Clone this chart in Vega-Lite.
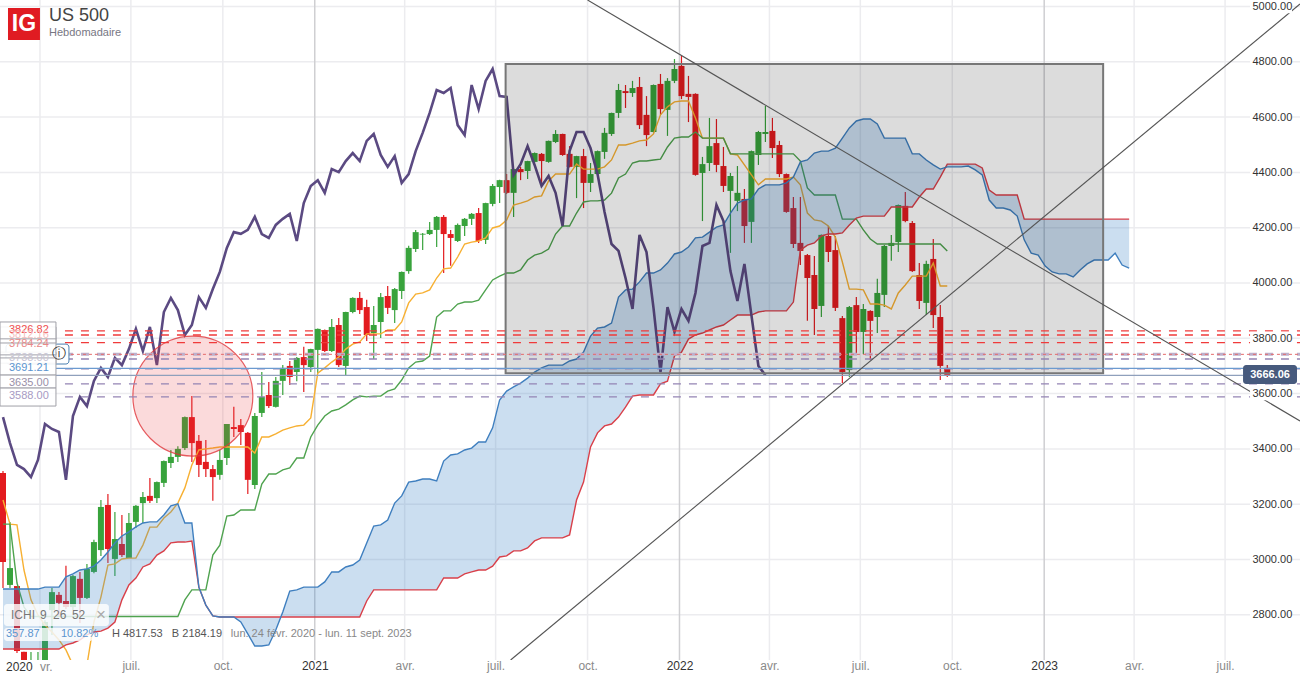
{
  "$schema": "https://vega.github.io/schema/vega-lite/v6.json",
  "description": "US 500 weekly candles with Ichimoku cloud, levels and trend lines",
  "width": 1300,
  "height": 677,
  "padding": 0,
  "autosize": {"type": "none"},
  "background": "#ffffff",
  "config": {
    "padding": 0,
    "font": "Liberation Sans",
    "view": {"stroke": null},
    "axis": {"title": null, "domain": false, "ticks": false, "grid": false}
  },
  "datasets": {
    "weeks": [
      {"date":"2020-02-24","open":3313,"high":3320,"low":2897,"close":2991,"tenkan":3215,"kijun":3128,"lag":3515},
      {"date":"2020-03-02","open":2908,"high":3136,"low":2897,"close":2969,"tenkan":3128,"kijun":3128,"lag":3421},
      {"date":"2020-03-09","open":2904,"high":2904,"low":2662,"close":2669,"tenkan":3125,"kijun":2915,"lag":3342},
      {"date":"2020-03-16","open":2666,"high":2666,"low":2560,"close":2600,"tenkan":2962,"kijun":2828,"lag":3327},
      {"date":"2020-03-23","open":2520,"high":2665,"low":2450,"close":2560,"tenkan":2854,"kijun":2794,"lag":3298},
      {"date":"2020-03-30","open":2560,"high":2665,"low":2500,"close":2590,"tenkan":2799,"kijun":2794,"lag":3360},
      {"date":"2020-04-06","open":2560,"high":2780,"low":2550,"close":2774,"tenkan":2763,"kijun":2794,"lag":3490},
      {"date":"2020-04-13","open":2817,"high":2897,"low":2727,"close":2882,"tenkan":2738,"kijun":2794,"lag":3472},
      {"date":"2020-04-20","open":2872,"high":2882,"low":2792,"close":2843,"tenkan":2709,"kijun":2794,"lag":3461},
      {"date":"2020-04-27","open":2850,"high":2977,"low":2821,"close":2828,"tenkan":2673,"kijun":2794,"lag":3288},
      {"date":"2020-05-04","open":2828,"high":2944,"low":2817,"close":2940,"tenkan":2618,"kijun":2794,"lag":3519},
      {"date":"2020-05-11","open":2930,"high":2955,"low":2770,"close":2861,"tenkan":2564,"kijun":2794,"lag":3588},
      {"date":"2020-05-18","open":2861,"high":2984,"low":2857,"close":2966,"tenkan":2618,"kijun":2794,"lag":3555},
      {"date":"2020-05-25","open":2955,"high":3071,"low":2950,"close":3063,"tenkan":2774,"kijun":2794,"lag":3646},
      {"date":"2020-06-01","open":3034,"high":3215,"low":3013,"close":3190,"tenkan":2864,"kijun":2794,"lag":3693},
      {"date":"2020-06-08","open":3197,"high":3237,"low":2987,"close":3038,"tenkan":2980,"kijun":2794,"lag":3660},
      {"date":"2020-06-15","open":3002,"high":3172,"low":2940,"close":3074,"tenkan":2984,"kijun":2794,"lag":3729},
      {"date":"2020-06-22","open":3056,"high":3161,"low":3009,"close":3016,"tenkan":3002,"kijun":2794,"lag":3703},
      {"date":"2020-06-29","open":3005,"high":3168,"low":3005,"close":3132,"tenkan":3005,"kijun":2794,"lag":3761},
      {"date":"2020-07-06","open":3136,"high":3197,"low":3114,"close":3194,"tenkan":3005,"kijun":2794,"lag":3834},
      {"date":"2020-07-13","open":3204,"high":3244,"low":3132,"close":3226,"tenkan":3052,"kijun":2794,"lag":3754},
      {"date":"2020-07-20","open":3230,"high":3295,"low":3204,"close":3212,"tenkan":3117,"kijun":2794,"lag":3841},
      {"date":"2020-07-27","open":3222,"high":3282,"low":3204,"close":3280,"tenkan":3117,"kijun":2794,"lag":3703},
      {"date":"2020-08-03","open":3277,"high":3358,"low":3262,"close":3356,"tenkan":3150,"kijun":2794,"lag":3895},
      {"date":"2020-08-10","open":3349,"high":3396,"low":3331,"close":3371,"tenkan":3172,"kijun":2794,"lag":3946},
      {"date":"2020-08-17","open":3371,"high":3410,"low":3353,"close":3400,"tenkan":3204,"kijun":2794,"lag":3902},
      {"date":"2020-08-24","open":3403,"high":3517,"low":3396,"close":3515,"tenkan":3259,"kijun":2854,"lag":3812},
      {"date":"2020-08-31","open":3515,"high":3591,"low":3353,"close":3421,"tenkan":3342,"kijun":2890,"lag":3848},
      {"date":"2020-09-07","open":3429,"high":3450,"low":3298,"close":3342,"tenkan":3396,"kijun":2890,"lag":3949},
      {"date":"2020-09-14","open":3353,"high":3432,"low":3298,"close":3327,"tenkan":3400,"kijun":2890,"lag":3910},
      {"date":"2020-09-21","open":3327,"high":3342,"low":3212,"close":3298,"tenkan":3403,"kijun":3016,"lag":3978},
      {"date":"2020-09-28","open":3306,"high":3396,"low":3288,"close":3360,"tenkan":3407,"kijun":3052,"lag":4040},
      {"date":"2020-10-05","open":3367,"high":3490,"low":3342,"close":3490,"tenkan":3407,"kijun":3157,"lag":4127},
      {"date":"2020-10-12","open":3479,"high":3552,"low":3443,"close":3472,"tenkan":3407,"kijun":3161,"lag":4184},
      {"date":"2020-10-19","open":3486,"high":3508,"low":3414,"close":3461,"tenkan":3407,"kijun":3179,"lag":4178},
      {"date":"2020-10-26","open":3458,"high":3461,"low":3237,"close":3288,"tenkan":3407,"kijun":3179,"lag":4192},
      {"date":"2020-11-02","open":3269,"high":3530,"low":3255,"close":3519,"tenkan":3385,"kijun":3179,"lag":4239},
      {"date":"2020-11-09","open":3530,"high":3678,"low":3515,"close":3588,"tenkan":3443,"kijun":3273,"lag":4177},
      {"date":"2020-11-16","open":3595,"high":3642,"low":3548,"close":3555,"tenkan":3443,"kijun":3309,"lag":4163},
      {"date":"2020-11-23","open":3552,"high":3660,"low":3550,"close":3646,"tenkan":3454,"kijun":3309,"lag":4210},
      {"date":"2020-11-30","open":3646,"high":3703,"low":3595,"close":3693,"tenkan":3468,"kijun":3324,"lag":4232},
      {"date":"2020-12-07","open":3700,"high":3718,"low":3631,"close":3660,"tenkan":3476,"kijun":3331,"lag":4250},
      {"date":"2020-12-14","open":3678,"high":3732,"low":3645,"close":3729,"tenkan":3483,"kijun":3367,"lag":4152},
      {"date":"2020-12-21","open":3732,"high":3769,"low":3606,"close":3703,"tenkan":3486,"kijun":3367,"lag":4289},
      {"date":"2020-12-28","open":3696,"high":3762,"low":3678,"close":3761,"tenkan":3512,"kijun":3443,"lag":4351},
      {"date":"2021-01-04","open":3758,"high":3835,"low":3674,"close":3834,"tenkan":3674,"kijun":3486,"lag":4372},
      {"date":"2021-01-11","open":3830,"high":3832,"low":3750,"close":3754,"tenkan":3693,"kijun":3519,"lag":4326},
      {"date":"2021-01-18","open":3754,"high":3870,"low":3750,"close":3841,"tenkan":3714,"kijun":3537,"lag":4412},
      {"date":"2021-01-25","open":3848,"high":3873,"low":3696,"close":3703,"tenkan":3732,"kijun":3544,"lag":4401},
      {"date":"2021-02-01","open":3700,"high":3896,"low":3667,"close":3895,"tenkan":3761,"kijun":3559,"lag":4441},
      {"date":"2021-02-08","open":3895,"high":3948,"low":3891,"close":3946,"tenkan":3779,"kijun":3577,"lag":4470},
      {"date":"2021-02-15","open":3946,"high":3967,"low":3888,"close":3902,"tenkan":3787,"kijun":3591,"lag":4441},
      {"date":"2021-02-22","open":3913,"high":3939,"low":3790,"close":3812,"tenkan":3816,"kijun":3588,"lag":4514},
      {"date":"2021-03-01","open":3819,"high":3917,"low":3725,"close":3848,"tenkan":3816,"kijun":3591,"lag":4539},
      {"date":"2021-03-08","open":3859,"high":3964,"low":3801,"close":3949,"tenkan":3816,"kijun":3591,"lag":4463},
      {"date":"2021-03-15","open":3953,"high":3989,"low":3888,"close":3910,"tenkan":3830,"kijun":3609,"lag":4420},
      {"date":"2021-03-22","open":3902,"high":3982,"low":3855,"close":3978,"tenkan":3830,"kijun":3617,"lag":4459},
      {"date":"2021-03-29","open":3971,"high":4042,"low":3942,"close":4040,"tenkan":3859,"kijun":3649,"lag":4362},
      {"date":"2021-04-05","open":4043,"high":4135,"low":4033,"close":4127,"tenkan":3928,"kijun":3693,"lag":4394},
      {"date":"2021-04-12","open":4123,"high":4192,"low":4112,"close":4184,"tenkan":3960,"kijun":3714,"lag":4477},
      {"date":"2021-04-19","open":4175,"high":4181,"low":4119,"close":4178,"tenkan":3964,"kijun":3718,"lag":4543},
      {"date":"2021-04-26","open":4177,"high":4221,"low":4174,"close":4192,"tenkan":3975,"kijun":3736,"lag":4615},
      {"date":"2021-05-03","open":4192,"high":4242,"low":4130,"close":4239,"tenkan":4018,"kijun":3877,"lag":4698},
      {"date":"2021-05-10","open":4239,"high":4246,"low":4036,"close":4177,"tenkan":4051,"kijun":3899,"lag":4687},
      {"date":"2021-05-17","open":4177,"high":4192,"low":4062,"close":4163,"tenkan":4054,"kijun":3899,"lag":4705},
      {"date":"2021-05-24","open":4152,"high":4215,"low":4148,"close":4210,"tenkan":4094,"kijun":3924,"lag":4571},
      {"date":"2021-05-31","open":4206,"high":4235,"low":4170,"close":4232,"tenkan":4141,"kijun":3931,"lag":4535},
      {"date":"2021-06-07","open":4232,"high":4253,"low":4210,"close":4250,"tenkan":4148,"kijun":3931,"lag":4716},
      {"date":"2021-06-14","open":4253,"high":4271,"low":4145,"close":4152,"tenkan":4152,"kijun":3938,"lag":4629},
      {"date":"2021-06-21","open":4156,"high":4290,"low":4141,"close":4289,"tenkan":4163,"kijun":3975,"lag":4731},
      {"date":"2021-06-28","open":4286,"high":4358,"low":4278,"close":4351,"tenkan":4199,"kijun":4011,"lag":4774},
      {"date":"2021-07-05","open":4347,"high":4373,"low":4289,"close":4372,"tenkan":4206,"kijun":4025,"lag":4676},
      {"date":"2021-07-12","open":4372,"high":4394,"low":4322,"close":4326,"tenkan":4228,"kijun":4036,"lag":4673},
      {"date":"2021-07-19","open":4326,"high":4414,"low":4239,"close":4412,"tenkan":4282,"kijun":4036,"lag":4391},
      {"date":"2021-07-26","open":4412,"high":4420,"low":4372,"close":4401,"tenkan":4289,"kijun":4047,"lag":4430},
      {"date":"2021-08-02","open":4405,"high":4442,"low":4376,"close":4441,"tenkan":4297,"kijun":4083,"lag":4495},
      {"date":"2021-08-09","open":4438,"high":4472,"low":4435,"close":4470,"tenkan":4311,"kijun":4101,"lag":4427},
      {"date":"2021-08-16","open":4467,"high":4470,"low":4351,"close":4441,"tenkan":4315,"kijun":4108,"lag":4351},
      {"date":"2021-08-23","open":4438,"high":4515,"low":4435,"close":4514,"tenkan":4369,"kijun":4123,"lag":4387},
      {"date":"2021-08-30","open":4510,"high":4553,"low":4506,"close":4539,"tenkan":4394,"kijun":4177,"lag":4326},
      {"date":"2021-09-06","open":4539,"high":4540,"low":4460,"close":4463,"tenkan":4394,"kijun":4206,"lag":4206},
      {"date":"2021-09-13","open":4467,"high":4495,"low":4418,"close":4420,"tenkan":4394,"kijun":4206,"lag":4477},
      {"date":"2021-09-20","open":4420,"high":4460,"low":4307,"close":4459,"tenkan":4430,"kijun":4253,"lag":4546},
      {"date":"2021-09-27","open":4459,"high":4485,"low":4271,"close":4362,"tenkan":4412,"kijun":4293,"lag":4546},
      {"date":"2021-10-04","open":4362,"high":4434,"low":4329,"close":4394,"tenkan":4412,"kijun":4297,"lag":4488},
      {"date":"2021-10-11","open":4394,"high":4479,"low":4392,"close":4477,"tenkan":4412,"kijun":4297,"lag":4394},
      {"date":"2021-10-18","open":4474,"high":4561,"low":4449,"close":4543,"tenkan":4420,"kijun":4300,"lag":4257},
      {"date":"2021-10-25","open":4539,"high":4616,"low":4532,"close":4615,"tenkan":4445,"kijun":4325,"lag":4141},
      {"date":"2021-11-01","open":4615,"high":4720,"low":4597,"close":4698,"tenkan":4499,"kijun":4380,"lag":4116},
      {"date":"2021-11-08","open":4694,"high":4716,"low":4633,"close":4687,"tenkan":4499,"kijun":4394,"lag":4018},
      {"date":"2021-11-15","open":4687,"high":4731,"low":4673,"close":4705,"tenkan":4506,"kijun":4434,"lag":3906},
      {"date":"2021-11-22","open":4709,"high":4745,"low":4557,"close":4571,"tenkan":4514,"kijun":4441,"lag":4174},
      {"date":"2021-11-29","open":4608,"high":4676,"low":4495,"close":4535,"tenkan":4517,"kijun":4441,"lag":4112},
      {"date":"2021-12-06","open":4546,"high":4718,"low":4544,"close":4716,"tenkan":4539,"kijun":4445,"lag":3910},
      {"date":"2021-12-13","open":4720,"high":4756,"low":4608,"close":4629,"tenkan":4608,"kijun":4448,"lag":3678},
      {"date":"2021-12-20","open":4626,"high":4741,"low":4532,"close":4731,"tenkan":4637,"kijun":4492,"lag":3913},
      {"date":"2021-12-27","open":4731,"high":4810,"low":4723,"close":4774,"tenkan":4655,"kijun":4524,"lag":3823},
      {"date":"2022-01-03","open":4785,"high":4821,"low":4665,"close":4676,"tenkan":4658,"kijun":4528,"lag":3906},
      {"date":"2022-01-10","open":4684,"high":4749,"low":4582,"close":4673,"tenkan":4658,"kijun":4528,"lag":3863},
      {"date":"2022-01-17","open":4684,"high":4686,"low":4388,"close":4391,"tenkan":4597,"kijun":4546,"lag":3964},
      {"date":"2022-01-24","open":4398,"high":4456,"low":4224,"close":4430,"tenkan":4524,"kijun":4524,"lag":4134},
      {"date":"2022-01-31","open":4434,"high":4597,"low":4405,"close":4495,"tenkan":4524,"kijun":4524,"lag":4145},
      {"date":"2022-02-07","open":4506,"high":4593,"low":4401,"close":4427,"tenkan":4524,"kijun":4524,"lag":4282},
      {"date":"2022-02-14","open":4423,"high":4492,"low":4329,"close":4351,"tenkan":4524,"kijun":4524,"lag":4224},
      {"date":"2022-02-21","open":4333,"high":4398,"low":4109,"close":4387,"tenkan":4467,"kijun":4467,"lag":4043},
      {"date":"2022-02-28","open":4297,"high":4423,"low":4260,"close":4326,"tenkan":4463,"kijun":4467,"lag":3935},
      {"date":"2022-03-07","open":4304,"high":4340,"low":4145,"close":4206,"tenkan":4427,"kijun":4467,"lag":4069},
      {"date":"2022-03-14","open":4221,"high":4479,"low":4145,"close":4477,"tenkan":4391,"kijun":4467,"lag":3884},
      {"date":"2022-03-21","open":4463,"high":4550,"low":4427,"close":4546,"tenkan":4355,"kijun":4467,"lag":3700},
      {"date":"2022-03-28","open":4539,"high":4640,"low":4510,"close":4546,"tenkan":4376,"kijun":4467,"lag":3666},
      {"date":"2022-04-04","open":4550,"high":4597,"low":4452,"close":4488,"tenkan":4376,"kijun":4467},
      {"date":"2022-04-11","open":4499,"high":4514,"low":4383,"close":4394,"tenkan":4376,"kijun":4467},
      {"date":"2022-04-18","open":4394,"high":4396,"low":4254,"close":4257,"tenkan":4376,"kijun":4467},
      {"date":"2022-04-25","open":4271,"high":4311,"low":4127,"close":4141,"tenkan":4383,"kijun":4467},
      {"date":"2022-05-02","open":4145,"high":4311,"low":4065,"close":4116,"tenkan":4355,"kijun":4441},
      {"date":"2022-05-09","open":4101,"high":4105,"low":3863,"close":4018,"tenkan":4253,"kijun":4344},
      {"date":"2022-05-16","open":4029,"high":4098,"low":3812,"close":3906,"tenkan":4228,"kijun":4318},
      {"date":"2022-05-23","open":3917,"high":4175,"low":3877,"close":4174,"tenkan":4224,"kijun":4318},
      {"date":"2022-05-30","open":4170,"high":4206,"low":4076,"close":4112,"tenkan":4206,"kijun":4318},
      {"date":"2022-06-06","open":4119,"high":4170,"low":3899,"close":3910,"tenkan":4166,"kijun":4318},
      {"date":"2022-06-13","open":3873,"high":3881,"low":3638,"close":3678,"tenkan":4076,"kijun":4231},
      {"date":"2022-06-20","open":3685,"high":3917,"low":3660,"close":3913,"tenkan":3978,"kijun":4231},
      {"date":"2022-06-27","open":3920,"high":3949,"low":3743,"close":3823,"tenkan":3978,"kijun":4231},
      {"date":"2022-07-04","open":3823,"high":3924,"low":3743,"close":3906,"tenkan":3975,"kijun":4192},
      {"date":"2022-07-11","open":3899,"high":3901,"low":3722,"close":3863,"tenkan":3924,"kijun":4159},
      {"date":"2022-07-18","open":3877,"high":4015,"low":3819,"close":3964,"tenkan":3924,"kijun":4141},
      {"date":"2022-07-25","open":3957,"high":4137,"low":3913,"close":4134,"tenkan":3920,"kijun":4141},
      {"date":"2022-08-01","open":4134,"high":4174,"low":4080,"close":4145,"tenkan":3906,"kijun":4141},
      {"date":"2022-08-08","open":4148,"high":4284,"low":4112,"close":4282,"tenkan":3964,"kijun":4141},
      {"date":"2022-08-15","open":4279,"high":4329,"low":4220,"close":4224,"tenkan":3993,"kijun":4141},
      {"date":"2022-08-22","open":4217,"high":4224,"low":4040,"close":4043,"tenkan":4025,"kijun":4141},
      {"date":"2022-08-29","open":4029,"high":4072,"low":3906,"close":3935,"tenkan":4025,"kijun":4141},
      {"date":"2022-09-05","open":3928,"high":4080,"low":3884,"close":4069,"tenkan":4025,"kijun":4141},
      {"date":"2022-09-12","open":4087,"high":4159,"low":3837,"close":3884,"tenkan":4072,"kijun":4141},
      {"date":"2022-09-19","open":3877,"high":3920,"low":3649,"close":3700,"tenkan":3989,"kijun":4141},
      {"date":"2022-09-26","open":3693,"high":3703,"low":3660,"close":3666,"tenkan":3989,"kijun":4116}
    ],
    "cloud": [
      {"date":"2020-02-24","spanA":2893,"spanB":2676},{"date":"2020-03-02","spanA":2893,"spanB":2676},{"date":"2020-03-09","spanA":2893,"spanB":2676},{"date":"2020-03-16","spanA":2893,"spanB":2676},
      {"date":"2020-03-23","spanA":2893,"spanB":2676},{"date":"2020-03-30","spanA":2893,"spanB":2676},{"date":"2020-04-06","spanA":2900,"spanB":2676},{"date":"2020-04-13","spanA":2900,"spanB":2676},
      {"date":"2020-04-20","spanA":2900,"spanB":2676},{"date":"2020-04-27","spanA":2937,"spanB":2691},{"date":"2020-05-04","spanA":2948,"spanB":2698},{"date":"2020-05-11","spanA":2962,"spanB":2709},
      {"date":"2020-05-18","spanA":2966,"spanB":2727},{"date":"2020-05-25","spanA":2976,"spanB":2738},{"date":"2020-06-01","spanA":2998,"spanB":2741},{"date":"2020-06-08","spanA":3027,"spanB":2752},
      {"date":"2020-06-15","spanA":3060,"spanB":2774},{"date":"2020-06-22","spanA":3085,"spanB":2854},{"date":"2020-06-29","spanA":3100,"spanB":2908},{"date":"2020-07-06","spanA":3118,"spanB":2933},
      {"date":"2020-07-13","spanA":3132,"spanB":2973},{"date":"2020-07-20","spanA":3136,"spanB":2984},{"date":"2020-07-27","spanA":3136,"spanB":3016},{"date":"2020-08-03","spanA":3161,"spanB":3031},
      {"date":"2020-08-10","spanA":3194,"spanB":3060},{"date":"2020-08-17","spanA":3201,"spanB":3063},{"date":"2020-08-24","spanA":3132,"spanB":3063},{"date":"2020-08-31","spanA":3132,"spanB":3067},
      {"date":"2020-09-07","spanA":2900,"spanB":2900},{"date":"2020-09-14","spanA":2835,"spanB":2835},{"date":"2020-09-21","spanA":2796,"spanB":2796},{"date":"2020-09-28","spanA":2792,"spanB":2792},
      {"date":"2020-10-05","spanA":2792,"spanB":2792},{"date":"2020-10-12","spanA":2792,"spanB":2792},{"date":"2020-10-19","spanA":2774,"spanB":2792},{"date":"2020-10-26","spanA":2731,"spanB":2792},
      {"date":"2020-11-02","spanA":2687,"spanB":2792},{"date":"2020-11-09","spanA":2687,"spanB":2792},{"date":"2020-11-16","spanA":2691,"spanB":2792},{"date":"2020-11-23","spanA":2745,"spanB":2792},
      {"date":"2020-11-30","spanA":2810,"spanB":2792},{"date":"2020-12-07","spanA":2886,"spanB":2792},{"date":"2020-12-14","spanA":2890,"spanB":2792},{"date":"2020-12-21","spanA":2900,"spanB":2792},
      {"date":"2020-12-28","spanA":2900,"spanB":2792},{"date":"2021-01-04","spanA":2900,"spanB":2792},{"date":"2021-01-11","spanA":2919,"spanB":2792},{"date":"2021-01-18","spanA":2955,"spanB":2792},
      {"date":"2021-01-25","spanA":2955,"spanB":2792},{"date":"2021-02-01","spanA":2973,"spanB":2792},{"date":"2021-02-08","spanA":2980,"spanB":2792},{"date":"2021-02-15","spanA":2998,"spanB":2792},
      {"date":"2021-02-22","spanA":3060,"spanB":2850},{"date":"2021-03-01","spanA":3121,"spanB":2890},{"date":"2021-03-08","spanA":3125,"spanB":2890},{"date":"2021-03-15","spanA":3143,"spanB":2890},
      {"date":"2021-03-22","spanA":3204,"spanB":2890},{"date":"2021-03-29","spanA":3230,"spanB":2890},{"date":"2021-04-05","spanA":3280,"spanB":2890},{"date":"2021-04-12","spanA":3284,"spanB":2890},
      {"date":"2021-04-19","spanA":3291,"spanB":2890},{"date":"2021-04-26","spanA":3291,"spanB":2890},{"date":"2021-05-03","spanA":3284,"spanB":2890},{"date":"2021-05-10","spanA":3356,"spanB":2933},
      {"date":"2021-05-17","spanA":3378,"spanB":2933},{"date":"2021-05-24","spanA":3382,"spanB":2933},{"date":"2021-05-31","spanA":3396,"spanB":2948},{"date":"2021-06-07","spanA":3403,"spanB":2955},
      {"date":"2021-06-14","spanA":3425,"spanB":2962},{"date":"2021-06-21","spanA":3425,"spanB":2962},{"date":"2021-06-28","spanA":3476,"spanB":2976},{"date":"2021-07-05","spanA":3577,"spanB":3009},
      {"date":"2021-07-12","spanA":3609,"spanB":3013},{"date":"2021-07-19","spanA":3624,"spanB":3031},{"date":"2021-07-26","spanA":3638,"spanB":3031},{"date":"2021-08-02","spanA":3656,"spanB":3042},
      {"date":"2021-08-09","spanA":3678,"spanB":3067},{"date":"2021-08-16","spanA":3693,"spanB":3078},{"date":"2021-08-23","spanA":3703,"spanB":3078},{"date":"2021-08-30","spanA":3703,"spanB":3078},
      {"date":"2021-09-06","spanA":3703,"spanB":3078},{"date":"2021-09-13","spanA":3718,"spanB":3089},{"date":"2021-09-20","spanA":3725,"spanB":3215},{"date":"2021-09-27","spanA":3750,"spanB":3280},
      {"date":"2021-10-04","spanA":3808,"spanB":3407},{"date":"2021-10-11","spanA":3837,"spanB":3458},{"date":"2021-10-18","spanA":3841,"spanB":3483},{"date":"2021-10-25","spanA":3855,"spanB":3490},
      {"date":"2021-11-01","spanA":3949,"spanB":3515},{"date":"2021-11-08","spanA":3975,"spanB":3551},{"date":"2021-11-15","spanA":3978,"spanB":3591},{"date":"2021-11-22","spanA":4004,"spanB":3595},
      {"date":"2021-11-29","spanA":4036,"spanB":3595},{"date":"2021-12-06","spanA":4036,"spanB":3595},{"date":"2021-12-13","spanA":4047,"spanB":3635},{"date":"2021-12-20","spanA":4072,"spanB":3645},
      {"date":"2021-12-27","spanA":4105,"spanB":3736},{"date":"2022-01-03","spanA":4112,"spanB":3750},{"date":"2022-01-10","spanA":4130,"spanB":3797},{"date":"2022-01-17","spanA":4163,"spanB":3812},
      {"date":"2022-01-24","spanA":4166,"spanB":3819},{"date":"2022-01-31","spanA":4184,"spanB":3830},{"date":"2022-02-07","spanA":4202,"spanB":3841},{"date":"2022-02-14","spanA":4210,"spanB":3848},
      {"date":"2022-02-21","spanA":4253,"spanB":3866},{"date":"2022-02-28","spanA":4289,"spanB":3884},{"date":"2022-03-07","spanA":4300,"spanB":3884},{"date":"2022-03-14","spanA":4304,"spanB":3884},
      {"date":"2022-03-21","spanA":4340,"spanB":3895},{"date":"2022-03-28","spanA":4355,"spanB":3899},{"date":"2022-04-04","spanA":4355,"spanB":3899},{"date":"2022-04-11","spanA":4355,"spanB":3899},
      {"date":"2022-04-18","spanA":4362,"spanB":3899},{"date":"2022-04-25","spanA":4383,"spanB":3931},{"date":"2022-05-02","spanA":4438,"spanB":4119},{"date":"2022-05-09","spanA":4445,"spanB":4137},
      {"date":"2022-05-16","spanA":4470,"spanB":4145},{"date":"2022-05-23","spanA":4477,"spanB":4170},{"date":"2022-05-30","spanA":4477,"spanB":4177},{"date":"2022-06-06","spanA":4488,"spanB":4177},
      {"date":"2022-06-13","spanA":4524,"spanB":4181},{"date":"2022-06-20","spanA":4561,"spanB":4210},{"date":"2022-06-27","spanA":4586,"spanB":4235},{"date":"2022-07-04","spanA":4593,"spanB":4242},
      {"date":"2022-07-11","spanA":4593,"spanB":4242},{"date":"2022-07-18","spanA":4575,"spanB":4242},{"date":"2022-07-25","spanA":4524,"spanB":4242},{"date":"2022-08-01","spanA":4524,"spanB":4275},
      {"date":"2022-08-08","spanA":4524,"spanB":4275},{"date":"2022-08-15","spanA":4524,"spanB":4275},{"date":"2022-08-22","spanA":4467,"spanB":4275},{"date":"2022-08-29","spanA":4467,"spanB":4311},
      {"date":"2022-09-05","spanA":4445,"spanB":4340},{"date":"2022-09-12","spanA":4427,"spanB":4340},{"date":"2022-09-19","spanA":4412,"spanB":4383},{"date":"2022-09-26","spanA":4420,"spanB":4430},
      {"date":"2022-10-03","spanA":4420,"spanB":4430},{"date":"2022-10-10","spanA":4420,"spanB":4430},{"date":"2022-10-17","spanA":4423,"spanB":4430},{"date":"2022-10-24","spanA":4409,"spanB":4430},
      {"date":"2022-10-31","spanA":4391,"spanB":4416},{"date":"2022-11-07","spanA":4300,"spanB":4336},{"date":"2022-11-14","spanA":4271,"spanB":4318},{"date":"2022-11-21","spanA":4271,"spanB":4318},
      {"date":"2022-11-28","spanA":4264,"spanB":4318},{"date":"2022-12-05","spanA":4242,"spanB":4318},{"date":"2022-12-12","spanA":4156,"spanB":4231},{"date":"2022-12-19","spanA":4108,"spanB":4231},
      {"date":"2022-12-26","spanA":4101,"spanB":4231},{"date":"2023-01-02","spanA":4061,"spanB":4231},{"date":"2023-01-09","spanA":4040,"spanB":4231},{"date":"2023-01-16","spanA":4033,"spanB":4231},
      {"date":"2023-01-23","spanA":4033,"spanB":4231},{"date":"2023-01-30","spanA":4022,"spanB":4231},{"date":"2023-02-06","spanA":4047,"spanB":4231},{"date":"2023-02-13","spanA":4069,"spanB":4231},
      {"date":"2023-02-20","spanA":4083,"spanB":4231},{"date":"2023-02-27","spanA":4083,"spanB":4231},{"date":"2023-03-06","spanA":4083,"spanB":4231},{"date":"2023-03-13","spanA":4108,"spanB":4231},
      {"date":"2023-03-20","spanA":4065,"spanB":4231},{"date":"2023-03-27","spanA":4054,"spanB":4231}
    ],
    "notes": [
      {"date":"2020-04-10","price":4964,"text":"US 500","style":"title"},
      {"date":"2020-04-10","price":4904,"text":"Hebdomadaire","style":"sub"},
      {"date":"2020-03-03","price":2799,"text":"ICHI","style":"ichi"},
      {"date":"2020-04-01","price":2799,"text":"9","style":"ichi"},
      {"date":"2020-04-14","price":2799,"text":"26","style":"ichi"},
      {"date":"2020-05-03","price":2799,"text":"52","style":"ichi"},
      {"date":"2020-05-27","price":2799,"text":"×","style":"close"},
      {"date":"2020-02-27","price":2730,"text":"357.87","style":"blue"},
      {"date":"2020-04-22","price":2730,"text":"10.82%","style":"blue"},
      {"date":"2020-06-12","price":2730,"text":"H 4817.53","style":"dark"},
      {"date":"2020-08-11","price":2730,"text":"B 2184.19","style":"dark"},
      {"date":"2020-10-09","price":2730,"text":"lun. 24 févr. 2020 - lun. 11 sept. 2023","style":"grey"},
      {"date":"2020-02-27","price":2611,"text":"2020","style":"year"},
      {"date":"2020-04-01","price":2611,"text":"vr.","style":"month"},
      {"date":"2020-03-01","price":3830,"text":"3826.82","style":"level red"},
      {"date":"2020-03-01","price":3812,"text":"3812.16","style":"level pale red"},
      {"date":"2020-03-01","price":3781,"text":"3784.24","style":"level mid red"},
      {"date":"2020-03-01","price":3729,"text":"3738.00","style":"level pale purple"},
      {"date":"2020-03-01","price":3691,"text":"3691.21","style":"blue"},
      {"date":"2020-03-01","price":3640,"text":"3635.00","style":"level grey"},
      {"date":"2020-03-01","price":3592,"text":"3588.00","style":"level purple"}
    ]
  },
  "encoding": {
    "x": {
      "field": "date",
      "type": "temporal",
      "scale": {"type": "utc", "domain": ["2020-02-21", "2023-09-14"], "padding": 0},
      "axis": {
        "values": ["2020-07-01","2020-10-01","2021-01-01","2021-04-01","2021-07-01","2021-10-01","2022-01-01","2022-04-01","2022-07-01","2022-10-01","2023-01-01","2023-04-01","2023-07-01"],
        "orient": "bottom",
        "labelExpr": "utcmonth(datum.value) == 0 ? '' + utcyear(datum.value) : ['','','','avr.','','','juil.','','','oct.'][utcmonth(datum.value)]",
        "labelPadding": -17,
        "labelFontSize": 12,
        "labelColor": {"condition": {"test": "utcmonth(datum.value) == 0", "value": "#333333"}, "value": "#8a8a8a"},
        "labelFlush": false,
        "labelOverlap": false,
        "zindex": 1
      }
    }
  },
  "layer": [
    {
      "data": {"values": [
        {"date":"2020-02-21","date2":"2023-09-14","price":2800},{"date":"2020-02-21","date2":"2023-09-14","price":3000},
        {"date":"2020-02-21","date2":"2023-09-14","price":3200},{"date":"2020-02-21","date2":"2023-09-14","price":3400},
        {"date":"2020-02-21","date2":"2023-09-14","price":3600},{"date":"2020-02-21","date2":"2023-09-14","price":3800},
        {"date":"2020-02-21","date2":"2023-09-14","price":4000},{"date":"2020-02-21","date2":"2023-09-14","price":4200},
        {"date":"2020-02-21","date2":"2023-09-14","price":4400},{"date":"2020-02-21","date2":"2023-09-14","price":4600},
        {"date":"2020-02-21","date2":"2023-09-14","price":4800},{"date":"2020-02-21","date2":"2023-09-14","price":5000}
      ]},
      "mark": {"type": "rule", "color": "#ececef", "strokeWidth": 1.5},
      "encoding": {
        "x2": {"field": "date2"},
        "y": {
          "field": "price",
          "type": "quantitative",
          "scale": {"domain": [2575, 5023.5], "nice": false, "zero": false},
          "axis": {
            "values": [2800,3000,3200,3400,3600,3800,4000,4200,4400,4600,4800,5000],
            "orient": "right",
            "format": ".2f",
            "labelAlign": "left",
            "labelPadding": -48,
            "labelFontSize": 11,
            "labelColor": "#333333",
            "labelOverlap": false,
            "labelFlush": false,
            "zindex": 1
          }
        }
      }
    },
    {
      "data": {"values": [
        {"date":"2020-04-01"},{"date":"2020-07-01"},{"date":"2020-10-01"},{"date":"2021-04-01"},{"date":"2021-07-01"},{"date":"2021-10-01"},
        {"date":"2022-04-01"},{"date":"2022-07-01"},{"date":"2022-10-01"},{"date":"2023-04-01"},{"date":"2023-07-01"}
      ]},
      "mark": {"type": "rule", "color": "#ececef", "strokeWidth": 1.5},
      "encoding": {}
    },
    {
      "data": {"values": [{"date":"2021-01-01"},{"date":"2022-01-01"},{"date":"2023-01-01"}]},
      "mark": {"type": "rule", "color": "#cfcfd2", "strokeWidth": 1.5},
      "encoding": {}
    },
    {
      "data": {"name": "weeks"},
      "mark": {"type": "rule", "strokeWidth": 1.2, "clip": true},
      "encoding": {
        "y": {"field": "high", "type": "quantitative"},
        "y2": {"field": "low"},
        "color": {"condition": {"test": "datum.close >= datum.open", "value": "#38a33c"}, "value": "#e31b1f"}
      }
    },
    {
      "data": {"name": "weeks"},
      "mark": {"type": "bar", "width": 6, "orient": "vertical", "clip": true},
      "encoding": {
        "y": {"field": "open", "type": "quantitative"},
        "y2": {"field": "close"},
        "color": {"condition": {"test": "datum.close >= datum.open", "value": "#38a33c"}, "value": "#e31b1f"}
      }
    },
    {
      "data": {"name": "weeks"},
      "mark": {"type": "line", "color": "#f7b032", "strokeWidth": 1.4, "clip": true},
      "encoding": {"y": {"field": "tenkan", "type": "quantitative"}}
    },
    {
      "data": {"name": "weeks"},
      "mark": {"type": "line", "color": "#4fa34f", "strokeWidth": 1.4, "clip": true},
      "encoding": {"y": {"field": "kijun", "type": "quantitative"}}
    },
    {
      "data": {"name": "cloud"},
      "mark": {"type": "area", "color": "#2f7bc3", "opacity": 0.25, "clip": true},
      "encoding": {
        "y": {"field": "spanA", "type": "quantitative"},
        "y2": {"field": "spanB"}
      }
    },
    {
      "data": {"name": "cloud"},
      "mark": {"type": "line", "color": "#d9404a", "strokeWidth": 1.4, "clip": true},
      "encoding": {"y": {"field": "spanB", "type": "quantitative"}}
    },
    {
      "data": {"name": "cloud"},
      "mark": {"type": "line", "color": "#3f7fbf", "strokeWidth": 1.4, "clip": true},
      "encoding": {"y": {"field": "spanA", "type": "quantitative"}}
    },
    {
      "data": {"name": "weeks"},
      "mark": {"type": "line", "color": "#5b4a82", "strokeWidth": 2.6, "clip": true},
      "encoding": {"y": {"field": "lag", "type": "quantitative"}}
    },
    {
      "data": {"values": [{"date": "2020-09-01", "price": 3591}]},
      "mark": {"type": "circle", "size": 14400, "fill": "#e8343a", "fillOpacity": 0.18, "stroke": "#e0353a", "strokeOpacity": 0.8, "strokeWidth": 1.2},
      "encoding": {"y": {"field": "price", "type": "quantitative"}}
    },
    {
      "data": {"values": [{"date": "2021-07-11", "date2": "2023-03-01", "top": 4792, "bottom": 3674}]},
      "mark": {"type": "rect", "fill": "#000000", "fillOpacity": 0.137, "stroke": "#777777", "strokeWidth": 2},
      "encoding": {
        "x2": {"field": "date2"},
        "y": {"field": "top", "type": "quantitative"},
        "y2": {"field": "bottom"}
      }
    },
    {
      "data": {"values": [
        {"date": "2020-04-26", "date2": "2023-09-14", "price": 3826.82},
        {"date": "2020-04-26", "date2": "2023-09-14", "price": 3812.16},
        {"date": "2020-04-26", "date2": "2023-09-14", "price": 3784.24}
      ]},
      "mark": {"type": "rule", "color": "#f03a3a", "strokeWidth": 1.4, "strokeDash": [8, 8]},
      "encoding": {"x2": {"field": "date2"}, "y": {"field": "price", "type": "quantitative"}}
    },
    {
      "data": {"values": [{"date": "2020-04-26", "date2": "2023-09-14", "price": 3742}]},
      "mark": {"type": "rule", "color": "#bdb0cc", "strokeWidth": 3, "strokeDash": [8, 8]},
      "encoding": {"x2": {"field": "date2"}, "y": {"field": "price", "type": "quantitative"}}
    },
    {
      "data": {"values": [{"date": "2020-04-26", "date2": "2023-09-14", "price": 3742}]},
      "mark": {"type": "rule", "color": "#e46a6a", "strokeWidth": 1, "strokeDash": [3, 3]},
      "encoding": {"x2": {"field": "date2"}, "y": {"field": "price", "type": "quantitative"}}
    },
    {
      "data": {"values": [
        {"date": "2020-04-26", "date2": "2023-09-14", "price": 3725},
        {"date": "2020-04-26", "date2": "2023-09-14", "price": 3690},
        {"date": "2020-04-26", "date2": "2023-09-14", "price": 3635},
        {"date": "2020-04-26", "date2": "2023-09-14", "price": 3588}
      ]},
      "mark": {"type": "rule", "color": "#9484b4", "strokeWidth": 1.4, "strokeDash": [8, 8]},
      "encoding": {"x2": {"field": "date2"}, "y": {"field": "price", "type": "quantitative"}}
    },
    {
      "data": {"values": [{"date": "2020-04-17", "date2": "2023-09-14", "price": 3691.21}]},
      "mark": {"type": "rule", "color": "#6c9ad0", "strokeWidth": 1.4},
      "encoding": {"x2": {"field": "date2"}, "y": {"field": "price", "type": "quantitative"}}
    },
    {
      "data": {"values": [{"date": "2020-04-17", "date2": "2023-07-19", "price": 3666.06}]},
      "mark": {"type": "rule", "color": "#8fa0bc", "strokeWidth": 1.4},
      "encoding": {"x2": {"field": "date2"}, "y": {"field": "price", "type": "quantitative"}}
    },
    {
      "data": {"values": [{"date": "2021-10-01", "price": 5023.5, "line": "fall"}, {"date": "2023-09-14", "price": 3501, "line": "fall"}, {"date": "2021-07-16", "price": 2636.5, "line": "rise"}, {"date": "2023-09-14", "price": 5009, "line": "rise"}]},
      "mark": {"type": "line", "color": "#555555", "strokeWidth": 1.1},
      "encoding": {
        "y": {"field": "price", "type": "quantitative"},
        "detail": {"field": "line", "type": "nominal"}
      }
    },
    {
      "data": {"values": [
        {"date": "2023-07-26", "date2": "2023-09-06", "top": 5023, "bottom": 4976},
        {"date": "2023-07-26", "date2": "2023-09-06", "top": 4824, "bottom": 4776},
        {"date": "2023-07-26", "date2": "2023-09-06", "top": 4624, "bottom": 4576},
        {"date": "2023-07-26", "date2": "2023-09-06", "top": 4424, "bottom": 4376},
        {"date": "2023-07-26", "date2": "2023-09-06", "top": 4224, "bottom": 4176},
        {"date": "2023-07-26", "date2": "2023-09-06", "top": 4024, "bottom": 3976},
        {"date": "2023-07-26", "date2": "2023-09-06", "top": 3824, "bottom": 3776},
        {"date": "2023-07-26", "date2": "2023-09-06", "top": 3624, "bottom": 3576},
        {"date": "2023-07-26", "date2": "2023-09-06", "top": 3424, "bottom": 3376},
        {"date": "2023-07-26", "date2": "2023-09-06", "top": 3224, "bottom": 3176},
        {"date": "2023-07-26", "date2": "2023-09-06", "top": 3024, "bottom": 2976},
        {"date": "2023-07-26", "date2": "2023-09-06", "top": 2824, "bottom": 2776},
        {"date": "2020-02-21", "date2": "2023-09-14", "top": 2636.5, "bottom": 2575}
      ]},
      "mark": {"type": "rect", "fill": "#ffffff"},
      "encoding": {
        "x2": {"field": "date2"},
        "y": {"field": "top", "type": "quantitative"},
        "y2": {"field": "bottom"}
      }
    },
    {
      "data": {"values": [
        {"date": "2020-02-25", "date2": "2020-06-09", "top": 2839, "bottom": 2759},
        {"date": "2020-02-25", "date2": "2020-05-24", "top": 2752, "bottom": 2705}
      ]},
      "mark": {"type": "rect", "fill": "#ffffff", "opacity": 0.8, "cornerRadius": 3},
      "encoding": {
        "x2": {"field": "date2"},
        "y": {"field": "top", "type": "quantitative"},
        "y2": {"field": "bottom"}
      }
    },
    {
      "data": {"values": [{"date": "2020-02-27", "date2": "2020-04-30", "top": 3779, "bottom": 3707}]},
      "mark": {"type": "rect", "fill": "#ffffff", "stroke": "#4a7fb0", "strokeWidth": 1, "cornerRadius": 3},
      "encoding": {
        "x2": {"field": "date2"},
        "y": {"field": "top", "type": "quantitative"},
        "y2": {"field": "bottom"}
      }
    },
    {
      "data": {"values": [
        {"date": "2020-02-21", "date2": "2020-04-17", "top": 3710, "bottom": 3750},
        {"date": "2020-02-21", "date2": "2020-04-17", "top": 3740, "bottom": 3800},
        {"date": "2020-02-21", "date2": "2020-04-17", "top": 3783, "bottom": 3841},
        {"date": "2020-02-21", "date2": "2020-04-17", "top": 3859, "bottom": 3798},
        {"date": "2020-02-21", "date2": "2020-04-17", "top": 3729, "bottom": 3667},
        {"date": "2020-02-21", "date2": "2020-04-17", "top": 3667, "bottom": 3620},
        {"date": "2020-02-21", "date2": "2020-04-17", "top": 3620, "bottom": 3555}
      ]},
      "mark": {"type": "rect", "fill": "#ffffff", "fillOpacity": 0.9, "stroke": "#a0a0a8", "strokeWidth": 1},
      "encoding": {
        "x2": {"field": "date2"},
        "y": {"field": "top", "type": "quantitative"},
        "y2": {"field": "bottom"}
      }
    },
    {
      "data": {"values": [{"date": "2020-02-29", "date2": "2020-04-01", "top": 4995, "bottom": 4879}]},
      "mark": {"type": "rect", "fill": "#e01b22"},
      "encoding": {
        "x2": {"field": "date2"},
        "y": {"field": "top", "type": "quantitative"},
        "y2": {"field": "bottom"}
      }
    },
    {
      "data": {"values": [{"date": "2020-03-16", "price": 4937, "text": "IG"}]},
      "mark": {"type": "text", "align": "center", "baseline": "middle", "color": "#ffffff", "fontSize": 23, "fontWeight": "bold"},
      "encoding": {"y": {"field": "price", "type": "quantitative"}, "text": {"field": "text"}}
    },
    {
      "data": {"values": [{"date": "2020-04-20", "price": 3743, "text": "ⓘ"}]},
      "mark": {"type": "text", "align": "center", "baseline": "middle", "color": "#222222", "fontSize": 14, "font": "DejaVu Sans"},
      "encoding": {"y": {"field": "price", "type": "quantitative"}, "text": {"field": "text"}}
    },
    {
      "data": {"name": "notes"},
      "mark": {"type": "text", "align": "left", "baseline": "middle"},
      "encoding": {
        "y": {"field": "price", "type": "quantitative"},
        "text": {"field": "text"},
        "color": {
          "field": "style",
          "type": "nominal",
          "legend": null,
          "scale": {
            "domain": ["title","sub","ichi","close","blue","dark","grey","year","month","level red","level pale red","level mid red","level pale purple","level grey","level purple"],
            "range": ["#444444","#777783","#777777","#aaaaaa","#5b94cf","#555555","#888888","#333333","#8a8a8a","#f05050","#f4c0c0","#e88888","#c8c4d4","#9a90a8","#a79ac3"]
          }
        },
        "size": {
          "field": "style",
          "type": "nominal",
          "legend": null,
          "scale": {
            "type": "ordinal",
            "domain": ["title","sub","ichi","close","blue","dark","grey","year","month","level red","level pale red","level mid red","level pale purple","level grey","level purple"],
            "range": [18,11,12,17,11,11,11,12,12,11,11,11,11,11,11]
          }
        }
      }
    },
    {
      "data": {"values": [{"date": "2023-07-19", "date2": "2023-09-11", "top": 3703, "bottom": 3635}]},
      "mark": {"type": "rect", "fill": "#475a7d", "cornerRadius": 3},
      "encoding": {
        "x2": {"field": "date2"},
        "y": {"field": "top", "type": "quantitative"},
        "y2": {"field": "bottom"}
      }
    },
    {
      "data": {"values": [{"date": "2023-08-15", "price": 3666, "text": "3666.06"}]},
      "mark": {"type": "text", "align": "center", "baseline": "middle", "color": "#ffffff", "fontSize": 11, "fontWeight": "bold"},
      "encoding": {"y": {"field": "price", "type": "quantitative"}, "text": {"field": "text"}}
    }
  ]
}
